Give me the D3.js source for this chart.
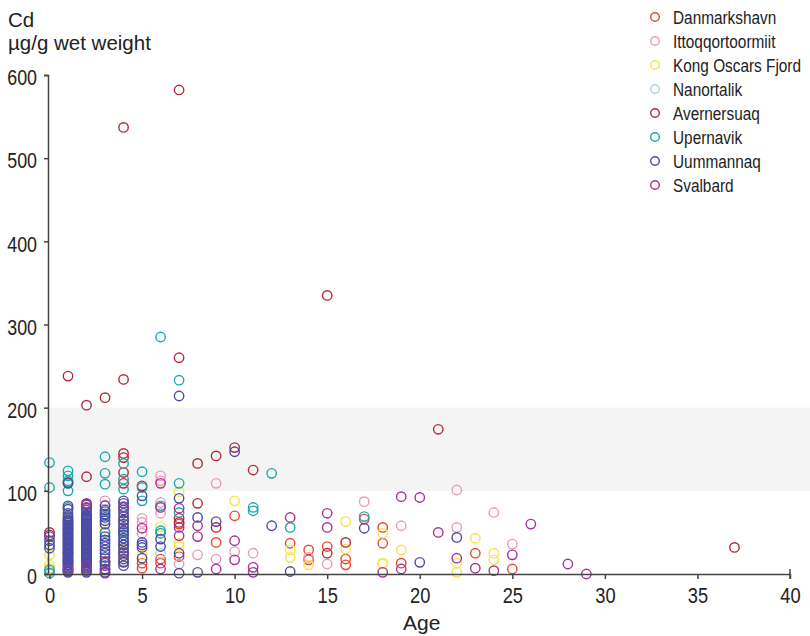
<!DOCTYPE html>
<html><head><meta charset="utf-8">
<script src="https://cdn.jsdelivr.net/npm/d3@7"></script>
<style>
body{margin:0;background:#fff;}
svg{display:block;}
</style></head>
<body>
<svg id="chart" width="810" height="636"></svg>
<script>
// ---- data: [age, Cd µg/g wet weight] per location ----
const seriesNames = ["Danmarkshavn","Ittoqqortoormiit","Kong Oscars Fjord","Nanortalik","Avernersuaq","Upernavik","Uummannaq","Svalbard"];
const seriesColors = ["#e8472f","#ec9ab8","#f5e44a","#a8d8dc","#b3283a","#1aa9ad","#4b4ba5","#a83295"];
const xTicks = [0,5,10,15,20,25,30,35,40];
const yTicks = [0,100,200,300,400,500,600];

const danmarkshavn = [[10,70],[9,38],[13,37],[14,29],[14,17],[15,33],[16,18],[16,11],[17,66],[18,56],[18,37],[19,13],[23,25],[25,6],[6,18],[6,13],[7,21],[7,60],[5,13],[5,7],[3,13],[3,5],[1,3],[2,20],[4,50],[4,15],[1,25]];
const ittoqqortoormiit = [[9,109],[6,118],[6,112],[6,86],[6,73],[5,67],[5,62],[5,49],[7,12],[8,23],[9,18],[10,27],[11,25],[14,20],[15,12],[17,87],[19,58],[22,101],[22,56],[24,74],[25,36],[3,88],[3,83],[1,35],[2,55],[4,40]];
const kongOscarsFjord = [[0,23],[0,11],[0,7],[0,35],[5,23],[6,57],[7,99],[7,37],[7,33],[10,88],[13,29],[13,20],[14,11],[16,63],[16,30],[18,49],[18,13],[18,12],[19,29],[22,13],[22,2],[23,43],[24,25],[24,17],[1,70],[2,5],[3,55],[4,30]];
const nanortalik = [[0,3],[1,45],[2,35],[3,50],[4,55],[6,25]];
const avernersuaq = [[1,238],[2,203],[3,212],[4,537],[4,234],[7,582],[7,260],[15,335],[21,174],[37,32],[8,133],[9,142],[10,152],[11,125],[1,110],[2,117],[4,145],[4,140],[4,122],[4,109],[5,106],[8,85],[9,56],[15,25],[16,38],[7,67],[7,62],[0,50],[2,83],[2,79],[3,15],[4,65],[4,25]];
const upernavik = [[6,285],[7,233],[0,134],[0,104],[0,5],[0,1],[1,124],[1,118],[1,112],[1,100],[3,141],[3,121],[3,108],[4,133],[4,114],[4,102],[5,123],[5,104],[5,88],[6,82],[6,52],[6,49],[7,109],[7,74],[11,80],[11,76],[12,121],[13,56],[17,69],[1,80],[1,55],[2,70],[2,65],[3,75],[3,70],[3,50],[4,35],[4,50],[1,15],[2,45]];
const uummannaq = [[7,214],[10,147],[0,40],[0,35],[0,31],[0,45],[1,109],[1,82],[5,94],[5,38],[5,35],[5,32],[5,19],[6,42],[6,33],[7,91],[7,25],[7,1],[8,68],[8,2],[9,63],[12,58],[13,3],[17,55],[20,14],[22,44],
 [1,2],[1,4],[1,5],[1,7],[1,8],[1,10],[1,11],[1,13],[1,14],[1,16],[1,17],[1,19],[1,20],[1,22],[1,23],[1,25],[1,26],[1,28],[1,29],[1,31],[1,32],[1,34],[1,35],[1,37],[1,38],[1,40],[1,41],[1,43],[1,44],[1,46],[1,47],[1,49],[1,50],[1,52],[1,53],[1,55],[1,56],[1,58],[1,59],[1,61],[1,62],[1,64],[1,65],[1,67],[1,69],[1,73],[1,78],
 [2,2],[2,4],[2,5],[2,7],[2,8],[2,10],[2,11],[2,13],[2,14],[2,16],[2,17],[2,19],[2,20],[2,22],[2,23],[2,25],[2,26],[2,28],[2,29],[2,31],[2,32],[2,34],[2,35],[2,37],[2,38],[2,40],[2,41],[2,43],[2,44],[2,46],[2,47],[2,49],[2,50],[2,52],[2,53],[2,55],[2,56],[2,58],[2,59],[2,61],[2,62],[2,64],[2,65],[2,67],[2,68],[2,70],[2,71],[2,74],[2,77],[2,80],[2,84],
 [3,2],[3,6],[3,10],[3,15],[3,20],[3,25],[3,29],[3,33],[3,37],[3,41],[3,45],[3,60],[3,64],[3,68],[3,72],[3,77],[3,82],
 [4,10],[4,14],[4,18],[4,22],[4,27],[4,31],[4,35],[4,39],[4,43],[4,47],[4,52],[4,56],[4,60],[4,64],[4,69],[4,73],[4,77],[4,81],[4,85],[4,88]];
const svalbard = [[8,58],[8,45],[9,6],[10,40],[10,17],[11,8],[11,2],[13,68],[15,73],[15,56],[18,2],[19,93],[19,6],[20,92],[21,50],[22,19],[23,7],[24,4],[25,23],[26,60],[28,12],[29,0],[5,55],[6,109],[6,80],[6,6],[7,79],[7,56],[7,46],[0,47],[2,85],[3,1],[4,80],[1,5],[2,10]];

const seriesData = [danmarkshavn, ittoqqortoormiit, kongOscarsFjord, nanortalik, avernersuaq, upernavik, uummannaq, svalbard];

// ---- layout ----
const svg = d3.select("#chart");
const x = d3.scaleLinear().domain([0,40]).range([49.5,790]);
const y = d3.scaleLinear().domain([0,600]).range([574,75]);
const regular = "'Liberation Sans',Arial,sans-serif";
const squeeze = 0.83; // condensed look for tick and legend labels

// reference band 100-200
svg.append("rect")
  .attr("x", x(0)).attr("y", y(200))
  .attr("width", 810 - x(0)).attr("height", y(100) - y(200))
  .attr("fill", "#f4f4f4");

// points
seriesData.forEach((data, i) => {
  svg.append("g").selectAll("circle").data(data).join("circle")
    .attr("cx", d => x(d[0])).attr("cy", d => y(d[1]))
    .attr("r", 4.7)
    .attr("fill", "none")
    .attr("stroke", seriesColors[i])
    .attr("stroke-width", 1.4);
});

// axes
const yAxis = svg.append("g").attr("transform", "translate(48,0)")
  .call(d3.axisLeft(y).tickValues(yTicks).tickSize(4).tickSizeOuter(4).tickPadding(7));
yAxis.selectAll("text")
  .attr("font-family", regular).attr("font-size", 21.5).attr("fill", "#222")
  .attr("x", -11 / squeeze).attr("dy", "0.45em")
  .attr("transform", `scale(${squeeze},1)`);

const xAxis = svg.append("g").attr("transform", "translate(0,574)")
  .call(d3.axisBottom(x).tickValues(xTicks).tickSize(5).tickSizeOuter(0));
xAxis.selectAll(".tick text")
  .attr("font-family", regular).attr("font-size", 22).attr("fill", "#222")
  .attr("y", 29).attr("dy", 0)
  .attr("transform", `scale(${squeeze},1)`);

svg.selectAll(".domain, .tick line").attr("stroke", "#444").attr("stroke-width", 1.5);
// end cap at 40
svg.append("line").attr("x1", x(40)).attr("x2", x(40)).attr("y1", 569).attr("y2", 579)
  .attr("stroke", "#444").attr("stroke-width", 1.5);

// titles
svg.append("text").attr("x", 8).attr("y", 27).attr("font-family", regular).attr("font-size", 20.5).attr("fill", "#222").text("Cd");
svg.append("text").attr("x", 8).attr("y", 50).attr("font-family", regular).attr("font-size", 20.5).attr("fill", "#222").text("µg/g wet weight");
svg.append("text").attr("x", 403).attr("y", 630).attr("font-family", regular).attr("font-size", 21).attr("fill", "#222").text("Age");

// legend
const legend = svg.append("g");
seriesNames.forEach((name, i) => {
  const cy = 17 + i * 24;
  legend.append("circle").attr("cx", 655).attr("cy", cy).attr("r", 4.3)
    .attr("fill", "none").attr("stroke", seriesColors[i]).attr("stroke-width", 1.4);
  legend.append("text")
    .attr("transform", `translate(673,${cy + 7}) scale(${squeeze},1)`)
    .attr("font-family", regular).attr("font-size", 18.5).attr("fill", "#222").text(name);
});
</script>
</body></html>
